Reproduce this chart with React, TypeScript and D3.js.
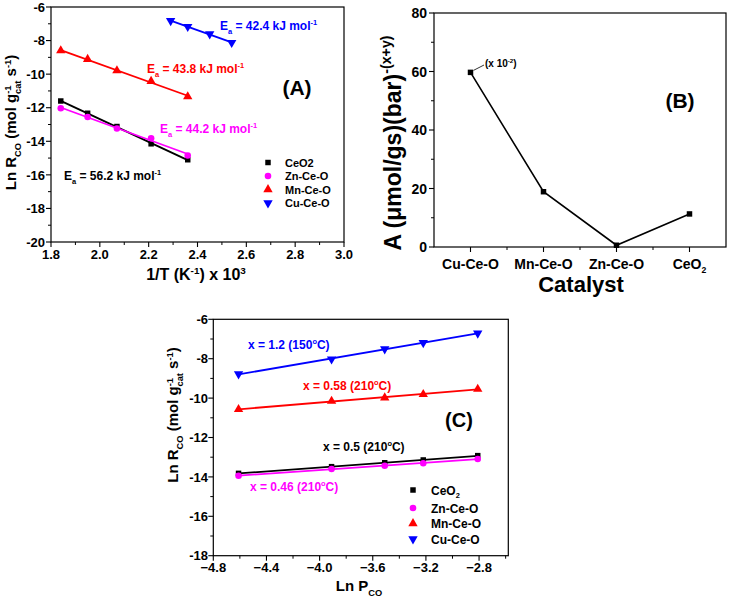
import React from 'react';
import * as d3 from 'd3';

const FONT = "'Liberation Sans', Arial, Helvetica, sans-serif";

// ---------- Panel A data ----------
const invT = [1.84, 1.95, 2.07, 2.21, 2.36];
const invTCu = [2.29, 2.36, 2.45, 2.54];
const aCeO2 = [-11.6, -12.33, -13.12, -14.15, -15.1];
const aZn = [-12.03, -12.55, -13.24, -13.82, -14.85];
const aMn = [-8.6, -9.11, -9.79, -10.42, -11.34];
const aCu = [-6.82, -7.17, -7.61, -8.12];
const aXTicks = [1.8, 2.0, 2.2, 2.4, 2.6, 2.8, 3.0];
const aXMinor = [1.9, 2.1, 2.3, 2.5, 2.7, 2.9];
const aYTicks = [-20, -18, -16, -14, -12, -10, -8, -6];
const aYMinor = [-19, -17, -15, -13, -11, -9, -7];

// ---------- Panel B data ----------
const bCats = ['Cu-Ce-O', 'Mn-Ce-O', 'Zn-Ce-O', 'CeO2'];
const bVals = [59.7, 18.9, 0.6, 11.3];
const bYTicks = [0, 20, 40, 60, 80];
const bYMinor = [10, 30, 50, 70];

// ---------- Panel C data ----------
const lnP = [-4.61, -3.91, -3.51, -3.22, -2.81];
const cCeO2 = [-13.82, -13.48, -13.28, -13.14, -12.92];
const cZn = [-13.94, -13.6, -13.43, -13.31, -13.09];
const cMn = [-10.57, -10.15, -9.98, -9.81, -9.54];
const cCu = [-8.78, -8.02, -7.51, -7.19, -6.71];
const cXTicks = [-4.8, -4.4, -4.0, -3.6, -3.2, -2.8];
const cXMinor = [-4.6, -4.2, -3.8, -3.4, -3.0, -2.6];
const cYTicks = [-18, -16, -14, -12, -10, -8, -6];
const cYMinor = [-17, -15, -13, -11, -9, -7];

const BLACK = '#000000';
const MAGENTA = '#ff00ff';
const RED = '#ff0000';
const BLUE = '#0000ff';

type Part = { t: string; s?: 'sub' | 'sup'; dx?: number };

function Rich({ parts, fs, supShift = 0.42 }: { parts: Part[]; fs: number; supShift?: number }) {
  let cur = 0;
  return (
    <>
      {parts.map((p, i) => {
        const target = p.s === 'sub' ? fs * 0.3 : p.s === 'sup' ? -fs * supShift : 0;
        const dy = target - cur;
        cur = target;
        return (
          <tspan key={i} dy={dy} dx={p.dx ?? 0} fontSize={p.s ? fs * 0.62 : fs}>
            {p.t}
          </tspan>
        );
      })}
    </>
  );
}

function fit(xs: number[], ys: number[]) {
  const mx = d3.mean(xs)!;
  const my = d3.mean(ys)!;
  let num = 0, den = 0;
  xs.forEach((x, i) => { num += (x - mx) * (ys[i] - my); den += (x - mx) * (x - mx); });
  const m = num / den;
  const b = my - m * mx;
  const x0 = d3.min(xs)!, x1 = d3.max(xs)!;
  return [[x0, m * x0 + b], [x1, m * x1 + b]] as [number, number][];
}

const symSquare = d3.symbol().type(d3.symbolSquare).size(30)();
const symCircle = d3.symbol().type(d3.symbolCircle).size(34)();
const symTri = d3.symbol().type(d3.symbolTriangle).size(38)();

function Marker({ kind, x, y, color }: { kind: string; x: number; y: number; color: string }) {
  const d = kind === 'square' ? symSquare : kind === 'circle' ? symCircle : symTri;
  const rot = kind === 'tridown' ? 180 : 0;
  return <path d={d!} fill={color} transform={`translate(${x},${y}) rotate(${rot})`} />;
}

function Frame({ x0, x1, y0, y1 }: { x0: number; x1: number; y0: number; y1: number }) {
  return <rect x={x0} y={y0} width={x1 - x0} height={y1 - y0} fill="none" stroke="#000" strokeWidth={1.2} />;
}

function LinearAxes({ xs, ys, xTicks, xMinor, yTicks, yMinor, xFmt, yFmt, fs, xLabY, yLabX }: any) {
  const [x0] = xs.range();
  const [y0] = ys.range();
  return (
    <g fontFamily={FONT} fontWeight="bold" fontSize={fs}>
      {xTicks.map((t: number) => (
        <g key={'xt' + t}>
          <line x1={xs(t)} x2={xs(t)} y1={y0} y2={y0 + 5} stroke="#000" strokeWidth={1.1} />
          <text x={xs(t)} y={xLabY} textAnchor="middle">{xFmt(t)}</text>
        </g>
      ))}
      {xMinor.map((t: number) => (
        <line key={'xm' + t} x1={xs(t)} x2={xs(t)} y1={y0} y2={y0 + 3} stroke="#000" strokeWidth={1} />
      ))}
      {yTicks.map((t: number) => (
        <g key={'yt' + t}>
          <line x1={x0 - 5} x2={x0} y1={ys(t)} y2={ys(t)} stroke="#000" strokeWidth={1.1} />
          <text x={yLabX} y={ys(t) + fs * 0.36} textAnchor="end">{yFmt(t)}</text>
        </g>
      ))}
      {yMinor.map((t: number) => (
        <line key={'ym' + t} x1={x0 - 3} x2={x0} y1={ys(t)} y2={ys(t)} stroke="#000" strokeWidth={1} />
      ))}
    </g>
  );
}

function Series({ xs, ys, xv, yv, color, kind }: any) {
  const ln = fit(xv, yv);
  const path = d3.line()(ln.map(([a, b]) => [xs(a), ys(b)]));
  return (
    <g>
      <path d={path!} stroke={color} strokeWidth={1.8} fill="none" />
      {xv.map((x: number, i: number) => (
        <Marker key={i} kind={kind} x={xs(x)} y={ys(yv[i])} color={color} />
      ))}
    </g>
  );
}

function PanelA() {
  const xs = d3.scaleLinear().domain([1.8, 3.0]).range([51, 344]);
  const ys = d3.scaleLinear().domain([-20, -6]).range([242, 7]);
  const fs = 12;
  const ea = (v: string): Part[] => [
    { t: 'E' }, { t: 'a', s: 'sub' }, { t: ` = ${v} kJ mol` }, { t: '-1', s: 'sup' },
  ];
  const legend = [
    { name: 'CeO2', kind: 'square', color: BLACK },
    { name: 'Zn-Ce-O', kind: 'circle', color: MAGENTA },
    { name: 'Mn-Ce-O', kind: 'tri', color: RED },
    { name: 'Cu-Ce-O', kind: 'tridown', color: BLUE },
  ];
  return (
    <g>
      <LinearAxes xs={xs} ys={ys} xTicks={aXTicks} xMinor={aXMinor} yTicks={aYTicks} yMinor={aYMinor}
        xFmt={d3.format('.1f')} yFmt={(v: number) => String(v)} fs={13} xLabY={259} yLabX={45} />
      <Series xs={xs} ys={ys} xv={invT} yv={aCeO2} color={BLACK} kind="square" />
      <Series xs={xs} ys={ys} xv={invT} yv={aZn} color={MAGENTA} kind="circle" />
      <Series xs={xs} ys={ys} xv={invT} yv={aMn} color={RED} kind="tri" />
      <Series xs={xs} ys={ys} xv={invTCu} yv={aCu} color={BLUE} kind="tridown" />
      <Frame x0={51} x1={344} y0={7} y1={242} />
      <g fontFamily={FONT} fontWeight="bold">
        <text x={220} y={30} fill={BLUE}><Rich parts={ea('42.4')} fs={fs} /></text>
        <text x={147} y={73} fill={RED}><Rich parts={ea('43.8')} fs={fs} /></text>
        <text x={160} y={133} fill={MAGENTA}><Rich parts={ea('44.2')} fs={fs} /></text>
        <text x={64} y={180} fill={BLACK}><Rich parts={ea('56.2')} fs={fs} /></text>
        <text x={297} y={95} fontSize={21} textAnchor="middle">(A)</text>
        {legend.map((l, i) => (
          <g key={l.name}>
            <Marker kind={l.kind} x={268} y={162.5 + i * 13.5} color={l.color} />
            <text x={285} y={162.5 + i * 13.5 + 4} fontSize={11}>{l.name}</text>
          </g>
        ))}
        <text x={196} y={280} textAnchor="middle">
          <Rich fs={16} supShift={0.38} parts={[{ t: '1/T (K' }, { t: '-1', s: 'sup' }, { t: ') x 10' }, { t: '3', s: 'sup' }]} />
        </text>
        <text transform="translate(16,122.5) rotate(-90)" textAnchor="middle">
          <Rich fs={15} supShift={0.34} parts={[
            { t: 'Ln R' }, { t: 'CO', s: 'sub' }, { t: ' (mol g' }, { t: '-1', s: 'sup' },
            { t: 'cat', s: 'sub', dx: -8.5 }, { t: ' s' }, { t: '-1', s: 'sup' }, { t: ')' },
          ]} />
        </text>
      </g>
    </g>
  );
}

function PanelB() {
  const xs = d3.scalePoint<string>().domain(bCats).range([434, 726]).padding(0.5);
  const ys = d3.scaleLinear().domain([0, 80]).range([247, 13]);
  const step = xs.step();
  const line = d3.line<number>().x((_, i) => xs(bCats[i])!).y((v) => ys(v));
  return (
    <g fontFamily={FONT} fontWeight="bold">
      <path d={line(bVals)!} stroke="#000" strokeWidth={1.6} fill="none" />
      {bVals.map((v, i) => (
        <Marker key={i} kind="square" x={xs(bCats[i])!} y={ys(v)} color="#000" />
      ))}
      <Frame x0={434} x1={726} y0={13} y1={247} />
      {bYTicks.map((t) => (
        <g key={t}>
          <line x1={429} x2={434} y1={ys(t)} y2={ys(t)} stroke="#000" strokeWidth={1.1} />
          <text x={427} y={ys(t) + 5} textAnchor="end" fontSize={14}>{t}</text>
        </g>
      ))}
      {bYMinor.map((t) => (
        <line key={t} x1={431} x2={434} y1={ys(t)} y2={ys(t)} stroke="#000" strokeWidth={1} />
      ))}
      {bCats.map((c, i) => (
        <g key={c}>
          <line x1={xs(c)} x2={xs(c)} y1={247} y2={252} stroke="#000" strokeWidth={1.1} />
          {i < bCats.length - 1 && (
            <line x1={xs(c)! + step / 2} x2={xs(c)! + step / 2} y1={247} y2={250} stroke="#000" strokeWidth={1} />
          )}
          <text x={xs(c)} y={269} textAnchor="middle" fontSize={14}>
            {c === 'CeO2' ? <Rich fs={14} parts={[{ t: 'CeO' }, { t: '2', s: 'sub' }]} /> : c}
          </text>
        </g>
      ))}
      <text x={581} y={292} textAnchor="middle" fontSize={22}>Catalyst</text>
      <text x={680} y={108} textAnchor="middle" fontSize={21}>(B)</text>
      <line x1={xs(bCats[0])! + 3} y1={ys(bVals[0]) - 2} x2={484} y2={65} stroke="#000" strokeWidth={0.8} />
      <text x={485} y={67}>
        <Rich fs={10} parts={[{ t: '(x 10' }, { t: '-2', s: 'sup' }, { t: ')' }]} />
      </text>
      <text transform="translate(401,143) rotate(-90)" textAnchor="middle">
        <Rich fs={23} parts={[{ t: 'A (μmol/gs)(bar)' }, { t: '-(x+y)', s: 'sup' }]} />
      </text>
    </g>
  );
}

function PanelC() {
  const xs = d3.scaleLinear().domain([-4.8, -2.58]).range([213.3, 508.3]);
  const ys = d3.scaleLinear().domain([-18, -6]).range([555.7, 319.3]);
  const fs = 12;
  const legend = [
    { name: 'CeO2', kind: 'square', color: BLACK },
    { name: 'Zn-Ce-O', kind: 'circle', color: MAGENTA },
    { name: 'Mn-Ce-O', kind: 'tri', color: RED },
    { name: 'Cu-Ce-O', kind: 'tridown', color: BLUE },
  ];
  const lab = (v: string, tmp: string): Part[] => [
    { t: `x = ${v} (${tmp}` }, { t: 'o', s: 'sup' }, { t: 'C)' },
  ];
  return (
    <g>
      <LinearAxes xs={xs} ys={ys} xTicks={cXTicks} xMinor={cXMinor.filter((v) => v < -2.58)} yTicks={cYTicks} yMinor={cYMinor}
        xFmt={d3.format('.1f')} yFmt={(v: number) => String(v)} fs={13} xLabY={572} yLabX={208} />
      <Series xs={xs} ys={ys} xv={lnP} yv={cCeO2} color={BLACK} kind="square" />
      <Series xs={xs} ys={ys} xv={lnP} yv={cZn} color={MAGENTA} kind="circle" />
      <Series xs={xs} ys={ys} xv={lnP} yv={cMn} color={RED} kind="tri" />
      <Series xs={xs} ys={ys} xv={lnP} yv={cCu} color={BLUE} kind="tridown" />
      <Frame x0={213.3} x1={508.3} y0={319.3} y1={555.7} />
      <g fontFamily={FONT} fontWeight="bold">
        <text x={248} y={349} fill={BLUE}><Rich parts={lab('1.2', '150')} fs={fs} /></text>
        <text x={303} y={390} fill={RED}><Rich parts={lab('0.58', '210')} fs={fs} /></text>
        <text x={323} y={451} fill={BLACK}><Rich parts={lab('0.5', '210')} fs={fs} /></text>
        <text x={250} y={491} fill={MAGENTA}><Rich parts={lab('0.46', '210')} fs={fs} /></text>
        <text x={459} y={427} fontSize={20} textAnchor="middle">(C)</text>
        {legend.map((l, i) => {
          const yy = [490, 508, 523.5, 539][i];
          return (
            <g key={l.name}>
              <Marker kind={l.kind} x={413} y={yy} color={l.color} />
              <text x={431} y={yy + 4.5} fontSize={12}>
                {l.name === 'CeO2' ? <Rich fs={12} parts={[{ t: 'CeO' }, { t: '2', s: 'sub' }]} /> : l.name}
              </text>
            </g>
          );
        })}
        <text x={359} y={591} textAnchor="middle">
          <Rich fs={15} parts={[{ t: 'Ln P' }, { t: 'CO', s: 'sub' }]} />
        </text>
        <text transform="translate(178,415) rotate(-90)" textAnchor="middle">
          <Rich fs={15} supShift={0.36} parts={[
            { t: 'Ln R' }, { t: 'CO', s: 'sub' }, { t: ' (mol g' }, { t: '-1', s: 'sup' },
            { t: 'cat', s: 'sub', dx: -8.5 }, { t: ' s' }, { t: '-1', s: 'sup' }, { t: ')' },
          ]} />
        </text>
      </g>
    </g>
  );
}

export default function App() {
  return (
    <svg width={729} height={603} viewBox="0 0 729 603"
      style={{ position: 'absolute', left: 0, top: 0, background: '#fff' }}>
      <rect width={729} height={603} fill="#fff" />
      <PanelA />
      <PanelB />
      <PanelC />
    </svg>
  );
}
